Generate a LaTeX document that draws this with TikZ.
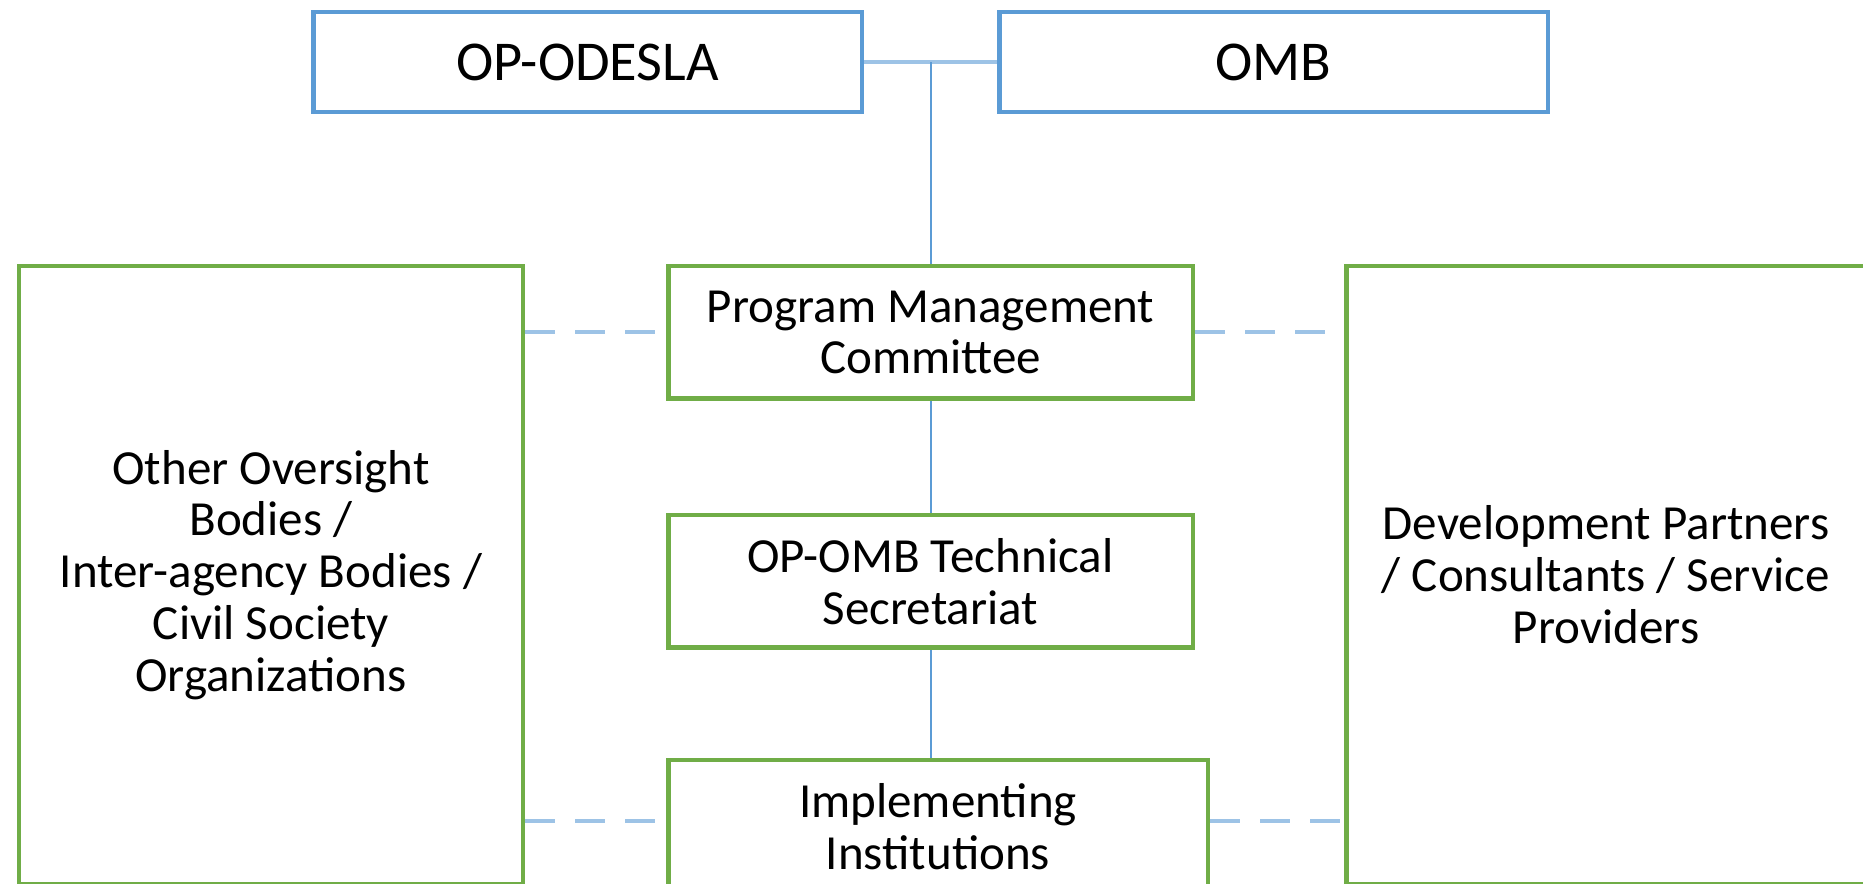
\documentclass[tikz,border=0pt]{standalone}
\usepackage{fontspec}
\setmainfont{Carlito}
\usetikzlibrary{positioning}
\definecolor{topblue}{HTML}{5B9BD5}
\definecolor{linkblue}{HTML}{9DC3E6}
\definecolor{boxgreen}{HTML}{70AD47}

\begin{document}
\begin{tikzpicture}[
    topbox/.style={draw=topblue, line width=0.09cm, rectangle, minimum width=10.97cm, minimum height=2.0cm, align=center, font=\fontsize{32}{34}\selectfont},
    box/.style={draw=boxgreen, line width=0.09cm, rectangle, minimum width=10.49cm, minimum height=2.65cm, align=center, font=\fontsize{27.9}{29.5}\selectfont},
    bigbox/.style={box, minimum height=12.35cm},
    link/.style={draw=topblue, line width=0.04cm},
    dashlink/.style={draw=linkblue, line width=0.08cm, dash pattern=on 0.6cm off 0.4cm}
]
\useasboundingbox (0,0) rectangle (37.26,-17.68);

% Top level
\coordinate (join) at (18.61,-1.24);
\node[topbox, left=1.33cm of join] (odesla) {OP-ODESLA};
\node[topbox, right=1.33cm of join] (omb) {OMB};

% Middle column
\node[box, below=4.04cm of join] (pmc) {Program Management\\Committee};
\node[box, below=2.24cm of pmc] (techsec) {OP-OMB Technical\\Secretariat};
\node[box, minimum width=10.79cm, below=2.16cm of techsec.south west, anchor=north west] (impl) {Implementing\\Institutions};

% Side boxes
\node[bigbox, minimum width=10.07cm, left=2.82cm of pmc.north west, anchor=north east] (oversight) {Other Oversight\\Bodies /\\Inter-agency Bodies /\\Civil Society\\Organizations};
\node[bigbox, minimum width=10.39cm, right=2.98cm of pmc.north east, anchor=north west] (partners) {Development Partners\\/ Consultants / Service\\Providers};

% Links
\draw[draw=linkblue, line width=0.09cm] (odesla.east) -- (omb.west);
\draw[link] (pmc.north) -- (join);
\draw[link] (pmc.south) -- (techsec.north);
\draw[link] (techsec.south) -- (techsec.south |- impl.north);

\coordinate[yshift=0.12cm] (implmid) at (impl.west);
\draw[dashlink] (pmc.west -| oversight.east) -- (pmc.west);
\draw[dashlink] (pmc.east) -- (pmc.east -| partners.west);
\draw[dashlink] (implmid -| oversight.east) -- (implmid);
\draw[dashlink] (implmid -| impl.east) -- (implmid -| partners.west);

\end{tikzpicture}
\end{document}
